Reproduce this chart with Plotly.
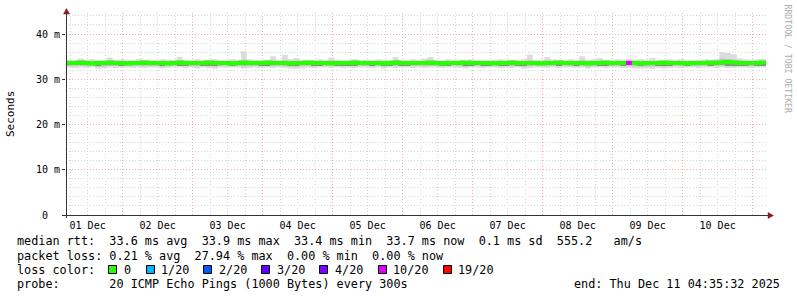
import pandas as pd
import plotly.graph_objects as go

# ---------------- data ----------------
START = "2025-12-01 04:35:32"
END = "2025-12-11 04:35:32"
STEP = "2h"

# median RTT (ms) per 2-hour bin
MEDIAN = [
    33.6, 33.6, 33.7, 33.6, 33.5, 33.6, 33.6, 33.7, 33.6, 33.6, 33.5, 33.6,
    33.6, 33.7, 33.6, 33.6, 33.6, 33.5, 33.6, 33.7, 33.6, 33.6, 33.6, 33.6,
    33.7, 33.6, 33.6, 33.6, 33.5, 33.6, 33.7, 33.6, 33.6, 33.6, 33.7, 33.6,
    33.6, 33.6, 33.5, 33.6, 33.6, 33.7, 33.6, 33.6, 33.6, 33.5, 33.6, 33.6,
    33.6, 33.7, 33.6, 33.6, 33.6, 33.6, 33.5, 33.6, 33.7, 33.6, 33.6, 33.6,
    33.6, 33.6, 33.7, 33.6, 33.5, 33.6, 33.6, 33.6, 33.7, 33.6, 33.6, 33.6,
    33.6, 33.5, 33.6, 33.6, 33.7, 33.6, 33.6, 33.6, 33.6, 33.5, 33.6, 33.6,
    33.7, 33.6, 33.6, 33.6, 33.6, 33.5, 33.6, 33.6, 33.7, 33.6, 33.6, 33.6,
    33.6, 33.6, 33.5, 33.6, 33.6, 33.6, 33.7, 33.6, 33.6, 33.6, 33.5, 33.6,
    33.6, 33.6, 33.7, 33.6, 33.7, 33.8, 33.7, 33.6, 33.6, 33.6, 33.6, 33.7,
]
# max ping of each bin (outer smoke top)
SMOKE_MAX = [
    34.3, 34.2, 34.6, 34.3, 34.4, 34.3, 34.2, 34.8, 34.3, 34.4, 34.3, 34.2,
    34.4, 34.3, 34.3, 34.2, 34.4, 34.3, 34.3, 34.9, 34.3, 34.2, 34.4, 34.3,
    34.3, 34.4, 34.2, 34.3, 34.4, 34.3, 36.2, 34.4, 34.3, 34.2, 34.3, 35.1,
    34.3, 35.4, 34.4, 34.7, 34.3, 34.2, 34.3, 34.4, 34.3, 34.8, 34.3, 34.2,
    34.3, 34.4, 34.2, 34.3, 34.3, 34.4, 34.3, 34.2, 34.9, 34.3, 34.3, 34.4,
    34.3, 34.6, 34.9, 34.3, 34.2, 34.4, 34.3, 34.3, 34.2, 34.4, 34.3, 34.3,
    34.2, 34.3, 34.4, 34.3, 34.3, 34.2, 34.4, 35.4, 34.3, 34.3, 34.9, 34.4,
    34.3, 34.2, 34.4, 34.3, 35.1, 34.3, 34.4, 34.7, 34.3, 34.2, 34.4, 34.3,
    34.5, 34.3, 34.4, 34.3, 34.7, 34.3, 34.2, 34.4, 34.3, 34.4, 34.3, 34.2,
    34.3, 34.4, 34.3, 34.5, 36.0, 35.8, 35.5, 34.6, 34.4, 34.3, 34.4, 34.5,
]
# min ping of each bin (outer smoke bottom)
SMOKE_MIN = [
    32.6, 32.5, 32.6, 32.5, 32.6, 32.3, 32.4, 32.6, 32.5, 32.6, 32.6, 32.5,
    32.6, 32.5, 32.6, 32.6, 32.4, 32.5, 32.6, 32.6, 32.5, 32.6, 32.4, 32.6,
    32.5, 32.3, 32.6, 32.5, 32.6, 32.6, 32.4, 32.5, 32.6, 32.5, 32.6, 32.5,
    32.6, 32.5, 32.4, 32.3, 32.4, 32.6, 32.5, 32.6, 32.6, 32.5, 32.6, 32.5,
    32.6, 32.5, 32.6, 32.6, 32.5, 32.6, 32.4, 32.6, 32.5, 32.6, 32.6, 32.5,
    32.6, 32.5, 32.6, 32.6, 32.5, 32.6, 32.6, 32.5, 32.4, 32.6, 32.6, 32.5,
    32.6, 32.6, 32.5, 32.6, 32.5, 32.6, 32.3, 32.5, 32.6, 32.6, 32.5, 32.6,
    32.5, 32.6, 32.6, 32.5, 32.6, 32.4, 32.6, 32.6, 32.5, 32.6, 32.6, 32.5,
    32.5, 32.4, 32.3, 32.4, 32.3, 32.5, 32.4, 32.5, 32.6, 32.5, 32.6, 32.6,
    32.5, 32.6, 32.6, 32.5, 32.6, 32.5, 32.5, 32.6, 32.6, 32.5, 32.6, 32.6,
]
# upper / lower quartile pings (inner smoke)
SMOKE_Q3 = [
    34.1, 34.0, 34.2, 34.1, 34.1, 34.0, 34.0, 34.2, 34.1, 34.1, 34.0, 34.0,
    34.1, 34.1, 34.0, 34.0, 34.1, 34.1, 34.0, 34.2, 34.1, 34.0, 34.1, 34.0,
    34.1, 34.1, 34.0, 34.0, 34.1, 34.1, 34.3, 34.1, 34.0, 34.0, 34.1, 34.2,
    34.0, 34.2, 34.1, 34.1, 34.0, 34.0, 34.1, 34.1, 34.0, 34.2, 34.1, 34.0,
    34.0, 34.1, 34.0, 34.1, 34.0, 34.1, 34.1, 34.0, 34.2, 34.1, 34.0, 34.1,
    34.0, 34.1, 34.2, 34.0, 34.0, 34.1, 34.1, 34.0, 34.0, 34.1, 34.0, 34.0,
    34.0, 34.1, 34.1, 34.0, 34.1, 34.0, 34.1, 34.2, 34.0, 34.0, 34.2, 34.1,
    34.1, 34.0, 34.1, 34.0, 34.2, 34.1, 34.1, 34.1, 34.0, 34.0, 34.1, 34.0,
    34.2, 34.1, 34.1, 34.0, 34.1, 34.0, 34.0, 34.1, 34.0, 34.1, 34.0, 34.0,
    34.1, 34.1, 34.0, 34.2, 34.6, 34.5, 34.3, 34.2, 34.1, 34.0, 34.1, 34.1,
]
SMOKE_Q1 = [
    32.9, 32.9, 33.0, 32.9, 32.9, 32.8, 32.8, 32.9, 32.9, 33.0, 32.9, 32.9,
    33.0, 32.9, 32.9, 32.9, 32.8, 32.9, 33.0, 32.9, 32.9, 32.9, 32.8, 32.9,
    32.9, 32.8, 32.9, 33.0, 32.9, 32.9, 32.8, 32.9, 33.0, 32.9, 32.9, 32.9,
    33.0, 32.9, 32.8, 32.8, 32.9, 33.0, 32.9, 32.9, 33.0, 32.9, 32.9, 32.9,
    32.9, 32.9, 33.0, 32.9, 32.9, 33.0, 32.8, 32.9, 32.9, 32.9, 33.0, 32.9,
    33.0, 32.9, 32.9, 33.0, 32.9, 32.9, 33.0, 32.9, 32.8, 32.9, 33.0, 32.9,
    32.9, 33.0, 32.9, 32.9, 32.9, 33.0, 32.8, 32.9, 33.0, 32.9, 32.9, 33.0,
    32.9, 33.0, 32.9, 32.9, 32.9, 32.8, 32.9, 33.0, 32.9, 32.9, 33.0, 32.9,
    32.9, 32.8, 32.8, 32.8, 32.8, 32.9, 32.8, 32.9, 33.0, 32.9, 32.9, 33.0,
    32.9, 33.0, 32.9, 32.9, 33.0, 32.9, 32.9, 33.0, 32.9, 32.9, 33.0, 32.9,
]
# lower edge of the dark smoke just under the median
SMOKE_DARK = [
    33.2, 33.2, 33.2, 33.2, 33.2, 32.95, 33.2, 33.2, 33.2, 32.95, 33.2, 33.2,
    33.2, 33.2, 33.2, 33.2, 32.95, 33.2, 33.2, 32.95, 32.95, 33.2, 33.2, 32.95,
    32.95, 32.95, 33.2, 33.2, 32.95, 33.2, 33.2, 33.2, 33.2, 32.95, 32.95, 33.2,
    33.2, 33.2, 32.95, 32.95, 33.2, 33.2, 32.95, 32.95, 33.2, 33.2, 32.95, 32.95,
    32.95, 32.95, 33.2, 33.2, 32.95, 33.2, 32.95, 32.95, 33.2, 32.95, 32.95, 33.2,
    33.2, 33.2, 33.2, 33.2, 32.95, 32.95, 33.2, 33.2, 32.95, 32.95, 33.2, 32.95,
    32.95, 33.2, 32.95, 32.95, 33.2, 32.95, 32.95, 33.2, 33.2, 33.2, 33.2, 33.2,
    32.95, 33.2, 33.2, 32.95, 33.2, 33.2, 33.2, 32.95, 32.95, 33.2, 33.2, 32.95,
    33.2, 33.2, 32.95, 33.2, 33.2, 32.95, 32.95, 32.95, 33.2, 33.2, 32.95, 33.2,
    33.2, 33.2, 32.95, 33.2, 33.2, 32.95, 32.95, 32.95, 32.95, 33.2, 32.95, 32.95,
]
# bins with packet loss: bin index -> lost pings (of 20)
LOSS_EVENTS = {96: 10}

LOSS_LEVELS = [0, 1, 2, 3, 4, 10, 19]
LOSS_LABELS = ["0", "1/20", "2/20", "3/20", "4/20", "10/20", "19/20"]
LOSS_COLORS = ["#26ff00", "#00b8ff", "#0059ff", "#5e00ff", "#7e00ff", "#dd00ff", "#ff0000"]

Y_TICKS = [0, 10, 20, 30, 40]
Y_TICKTEXT = ["0\u00a0\u00a0", "10 m", "20 m", "30 m", "40 m"]
Y_MAX = 44.64

STAT_ROW1 = "median rtt:  33.6 ms avg  33.9 ms max  33.4 ms min  33.7 ms now  0.1 ms sd  555.2   am/s"
STAT_ROW2 = "packet loss: 0.21 % avg  27.94 % max  0.00 % min  0.00 % now"
STAT_ROW3 = "loss color:"
STAT_ROW4 = "probe:       20 ICMP Echo Pings (1000 Bytes) every 300s"
END_TEXT = "end: Thu Dec 11 04:35:32 2025"
Y_TITLE = "Seconds"
WATERMARK = "RRDTOOL / TOBI OETIKER"

# ---------------- layout geometry (pixels) ----------------
W, H = 797, 297
L, R, T, B = 66, 766, 13, 215
PW, PH = R - L, B - T


def xp(px):
    return (px - L) / PW


def yp(py):
    return (B - py) / PH


def nb(s):
    return s.replace(" ", "\u00a0")


MONO = "DejaVu Sans Mono"

times = pd.date_range(START, END, freq=STEP)


def step(vals):
    return list(vals) + [vals[-1]]


fig = go.Figure()


def band(lo, hi, color):
    fig.add_trace(go.Scatter(x=times, y=step(lo), mode="lines", line=dict(width=0, shape="hv"),
                             hoverinfo="skip", showlegend=False))
    fig.add_trace(go.Scatter(x=times, y=step(hi), mode="lines", line=dict(width=0, shape="hv"),
                             fill="tonexty", fillcolor=color, hoverinfo="skip", showlegend=False))


band(SMOKE_MIN, SMOKE_MAX, "#dcdcdc")
band(SMOKE_Q1, SMOKE_Q3, "#c2c2c2")
band(SMOKE_DARK, MEDIAN, "#8a8a8a")

fig.add_trace(go.Scatter(x=times, y=step(MEDIAN), mode="lines",
                         line=dict(width=4, shape="hv", color=LOSS_COLORS[0]),
                         hoverinfo="skip", showlegend=False))


def loss_color(n):
    c = LOSS_COLORS[0]
    for lvl, col in zip(LOSS_LEVELS, LOSS_COLORS):
        if n >= lvl:
            c = col
    return c


for i, n in LOSS_EVENTS.items():
    fig.add_trace(go.Scatter(x=[times[i], times[i + 1]], y=[MEDIAN[i], MEDIAN[i]], mode="lines",
                             line=dict(width=4, color=loss_color(n)),
                             hoverinfo="skip", showlegend=False))

shapes = []
AX = "#333333"
ARROW = "#8c1c1c"
# axis lines
shapes.append(dict(type="line", xref="paper", yref="paper", x0=xp(62), x1=xp(769), y0=yp(215.5), y1=yp(215.5),
                   line=dict(color=AX, width=1)))
shapes.append(dict(type="line", xref="paper", yref="paper", x0=xp(66.5), x1=xp(66.5), y0=yp(218), y1=yp(12),
                   line=dict(color=AX, width=1)))
# arrows
shapes.append(dict(type="path", xref="paper", yref="paper",
                   path=f"M{xp(773.5)},{yp(215.5)} L{xp(768)},{yp(212.5)} L{xp(768)},{yp(218.5)} Z",
                   fillcolor=ARROW, line=dict(color=ARROW, width=0.5)))
shapes.append(dict(type="path", xref="paper", yref="paper",
                   path=f"M{xp(66.5)},{yp(8.5)} L{xp(63.5)},{yp(14)} L{xp(69.5)},{yp(14)} Z",
                   fillcolor=ARROW, line=dict(color=ARROW, width=0.5)))

annotations = []


def text(s, x, y, anchor="left", size=11.8, color="#000000", angle=0):
    annotations.append(dict(text=nb(s), x=xp(x), y=yp(y), xref="paper", yref="paper",
                            xanchor=anchor, yanchor="middle", showarrow=False, textangle=angle,
                            font=dict(family=MONO, size=size, color=color), borderpad=0))


text(STAT_ROW1, 16, 241.5)
text(STAT_ROW2, 16, 255.5)
text(STAT_ROW3, 16, 269.5)
text(STAT_ROW4, 16, 283.5)
text(END_TEXT, 781, 283.5, anchor="right")

box_x = [108, 146, 203, 261, 319, 378, 443]
label_x = [123, 160, 218, 276, 334, 392, 457]
for bx, lx, lab, col in zip(box_x, label_x, LOSS_LABELS, LOSS_COLORS):
    shapes.append(dict(type="rect", xref="paper", yref="paper", x0=xp(bx + 0.5), x1=xp(bx + 8.5),
                       y0=yp(273.5), y1=yp(265.5), fillcolor=col, line=dict(color="#000000", width=1)))
    text(lab, lx, 269.5)

text(Y_TITLE, 10, 114, anchor="center", size=11, angle=-90)
text(WATERMARK, 787.5, 59, anchor="center", size=8.2, color="#ababab", angle=90)

GRID_DASH = "1px,2px"
MAJOR_GRID = "#efb0b0"
MINOR_GRID = "#d6d6d6"
fig.update_layout(
    width=W, height=H,
    margin=dict(l=L, r=W - R, t=T, b=H - B, pad=0),
    paper_bgcolor="#ffffff", plot_bgcolor="#ffffff",
    showlegend=False,
    shapes=shapes, annotations=annotations,
    xaxis=dict(
        type="date", range=[START, END],
        tick0="2025-12-01", dtick=86400000, tickformat="%d %b", ticklabelmode="period",
        showgrid=True, gridcolor=MAJOR_GRID, griddash=GRID_DASH, gridwidth=1,
        ticks="", showline=False, zeroline=False, ticklabelstandoff=3,
        tickfont=dict(family=MONO, size=10, color="#000000"),
        minor=dict(tickmode="linear", tick0="2025-12-01", dtick=21600000,
                   showgrid=True, gridcolor=MINOR_GRID, griddash=GRID_DASH, gridwidth=1),
    ),
    yaxis=dict(
        range=[0, Y_MAX], tickmode="array", tickvals=Y_TICKS, ticktext=Y_TICKTEXT,
        showgrid=True, gridcolor=MAJOR_GRID, griddash=GRID_DASH, gridwidth=1,
        ticks="outside", ticklen=3, tickcolor=AX, showline=False, zeroline=False,
        tickfont=dict(family=MONO, size=10, color="#000000"),
        minor=dict(tickmode="linear", tick0=0, dtick=2,
                   showgrid=True, gridcolor=MINOR_GRID, griddash=GRID_DASH, gridwidth=1),
    ),
)

fig.write_html("out.html")
